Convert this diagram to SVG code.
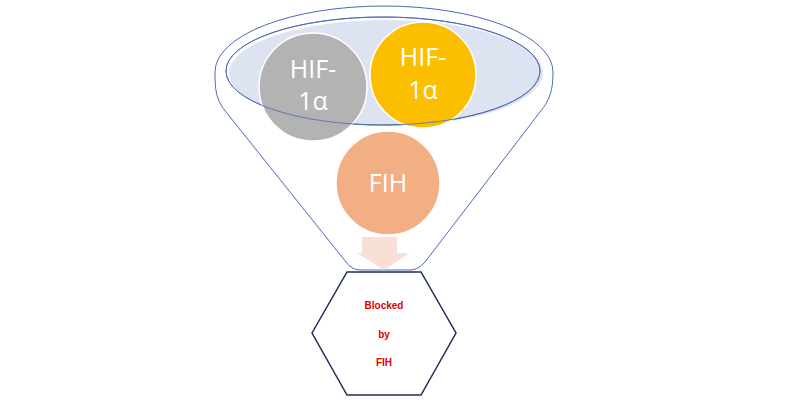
<svg xmlns="http://www.w3.org/2000/svg" width="785" height="405" viewBox="0 0 785 405">
<style>
.t{font-family:"Open Sans","Liberation Sans",sans-serif;fill:#fff;font-size:25px;text-anchor:middle}
.r{font-family:"Liberation Sans",sans-serif;fill:#e00000;font-size:10px;font-weight:bold;text-anchor:middle}
</style>
<rect width="785" height="405" fill="#fff"/>
<g id="funnel">
<path d="M215,72 A169,66 0 0 1 553,72 C553,90 550,100 540,112 L425,262 Q418,270 410,270 L360,270 Q352,270 346,262 L226,112 C216,100 215,90 215,72 Z" fill="#fff" stroke="#4a6bb5" stroke-width="1"/>
<ellipse cx="386" cy="73" rx="157" ry="53" fill="#dde3f0"/>
<ellipse cx="383" cy="71" rx="157" ry="54" fill="none" stroke="#4a6bb5" stroke-width="1"/>
</g>
<g id="hif-grey"><circle cx="313" cy="87" r="54" fill="#b3b3b3" stroke="#fff" stroke-width="1.5"/><text class="t" x="313" y="78">HIF-</text><text class="t" x="313" y="110">1α</text></g>
<g id="hif-yellow"><circle cx="423" cy="75" r="53" fill="#fcbf00" stroke="#fff" stroke-width="1.5"/><text class="t" x="423" y="66">HIF-</text><text class="t" x="423" y="99">1α</text></g>
<ellipse cx="383" cy="71" rx="157" ry="54" fill="none" stroke="#4a6bb5" stroke-width="1" opacity="0.8"/>
<g id="fih"><circle cx="388" cy="183" r="52" fill="#f3af84" stroke="#fff" stroke-width="1.5"/><text class="t" x="388" y="192">FIH</text></g>
<g id="connectors"><path d="M362,237 H397 V253 H410 L384,270 L357,253 H362 Z" fill="#f9e0d6"/></g>
<g id="blocked">
<polygon points="312,333 347,272 421,272 456,333 421,395 347,395" fill="#fff" stroke="#1f2d5a" stroke-width="1.5"/>
<text class="r" x="384" y="309">Blocked</text><text class="r" x="384" y="338">by</text><text class="r" x="384" y="366">FIH</text>
</g>
</svg>
